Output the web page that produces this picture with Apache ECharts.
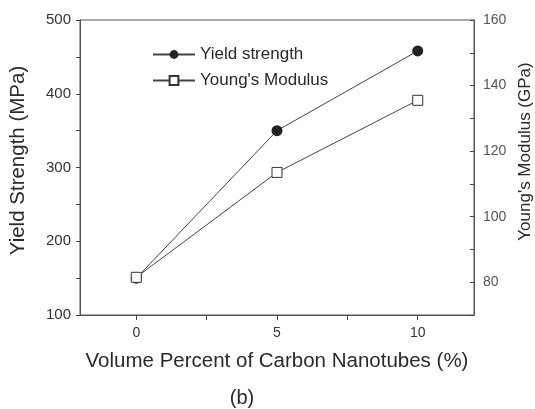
<!DOCTYPE html>
<html>
<head>
<meta charset="utf-8">
<script src="https://cdn.jsdelivr.net/npm/echarts@6/dist/echarts.min.js"></script>
<style>
  html, body { margin: 0; padding: 0; background: #fff; }
  #chart { width: 535px; height: 409px; }
</style>
</head>
<body>
<div id="chart"></div>
<script>
// volume percent of CNT
const cntPercent = [0, 5, 10]
// yield strength (MPa)
const yieldStrength = [150, 350, 458]
// young's modulus (GPa)
const youngsModulus = [81.5, 113.5, 135.5]
const xTickLabels = [0, 5, 10]

const font = 'Liberation Sans, Arial, sans-serif'
const ink = '#2a2a2a'

const chart = echarts.init(document.getElementById('chart'))
const option = {
  backgroundColor: '#fff',
  animation: false,
  textStyle: { fontFamily: font },
  grid: {
    left: 80,
    top: 20,
    right: 61,
    bottom: 94,
    outerBoundsMode: 'none',
    show: true,
    borderColor: '#555',
    borderWidth: 1,
  },
  legend: {
    orient: 'vertical',
    left: 147,
    top: 41,
    itemWidth: 42,
    itemHeight: 11,
    itemGap: 9,
    textStyle: { fontSize: 17, color: ink, fontFamily: font },
    data: ['Yield strength', "Young's Modulus"],
  },
  xAxis: {
    type: 'value',
    min: -2,
    max: 12,
    name: 'Volume Percent of Carbon Nanotubes (%)',
    nameLocation: 'middle',
    nameGap: 36,
    nameTextStyle: { fontSize: 20.5, color: ink },
    axisLine: { lineStyle: { color: '#555' } },
    axisTick: { customValues: [0, 2.5, 5, 7.5, 10], length: 5, lineStyle: { color: '#444' } },
    axisLabel: { customValues: xTickLabels, fontSize: 14, color: '#333', margin: 11 },
    splitLine: { show: false },
  },
  yAxis: [
    {
      type: 'value',
      min: 100,
      max: 500,
      interval: 50,
      name: 'Yield Strength (MPa)',
      nameLocation: 'middle',
      nameGap: 51,
      nameTextStyle: { fontSize: 20.5, color: ink, padding: [0, 0, 0, 14] },
      axisLine: { show: true, onZero: false, lineStyle: { color: '#555' } },
      axisTick: { show: true, length: 4, lineStyle: { color: '#444' } },
      axisLabel: {
        fontSize: 15,
        color: '#333',
        margin: 9,
        formatter: (v) => (v % 100 === 0 ? String(v) : ''),
      },
      splitLine: { show: false },
    },
    {
      type: 'value',
      min: 70,
      max: 160,
      interval: 10,
      position: 'right',
      name: "Young's Modulus (GPa)",
      nameLocation: 'middle',
      nameGap: 41,
      nameRotate: 90,
      nameTextStyle: { fontSize: 17, color: ink, padding: [0, 0, 0, 32] },
      axisLine: { show: true, onZero: false, lineStyle: { color: '#555' } },
      axisTick: { show: true, inside: true, length: 4, lineStyle: { color: '#444' } },
      axisLabel: {
        fontSize: 14,
        color: '#555',
        margin: 9,
        formatter: (v) => (v % 20 === 0 ? String(v) : ''),
      },
      splitLine: { show: false },
    },
  ],
  series: [
    {
      name: 'Yield strength',
      type: 'line',
      yAxisIndex: 0,
      symbol: 'circle',
      symbolSize: 11,
      itemStyle: { color: '#222' },
      lineStyle: { color: '#444', width: 1 },
      data: cntPercent.map((x, i) => [x, yieldStrength[i]]),
    },
    {
      name: "Young's Modulus",
      type: 'line',
      yAxisIndex: 1,
      symbol: 'rect',
      symbolSize: 10,
      itemStyle: { color: '#fff', borderColor: '#333', borderWidth: 1 },
      lineStyle: { color: '#444', width: 1 },
      data: cntPercent.map((x, i) => [x, youngsModulus[i]]),
    },
  ],
  graphic: [
    {
      type: 'text',
      x: 242,
      y: 398,
      style: {
        text: '(b)',
        fontSize: 20,
        fill: ink,
        fontFamily: font,
        align: 'center',
        verticalAlign: 'middle',
      },
    },
  ],
}
chart.setOption(option)
</script>
</body>
</html>
